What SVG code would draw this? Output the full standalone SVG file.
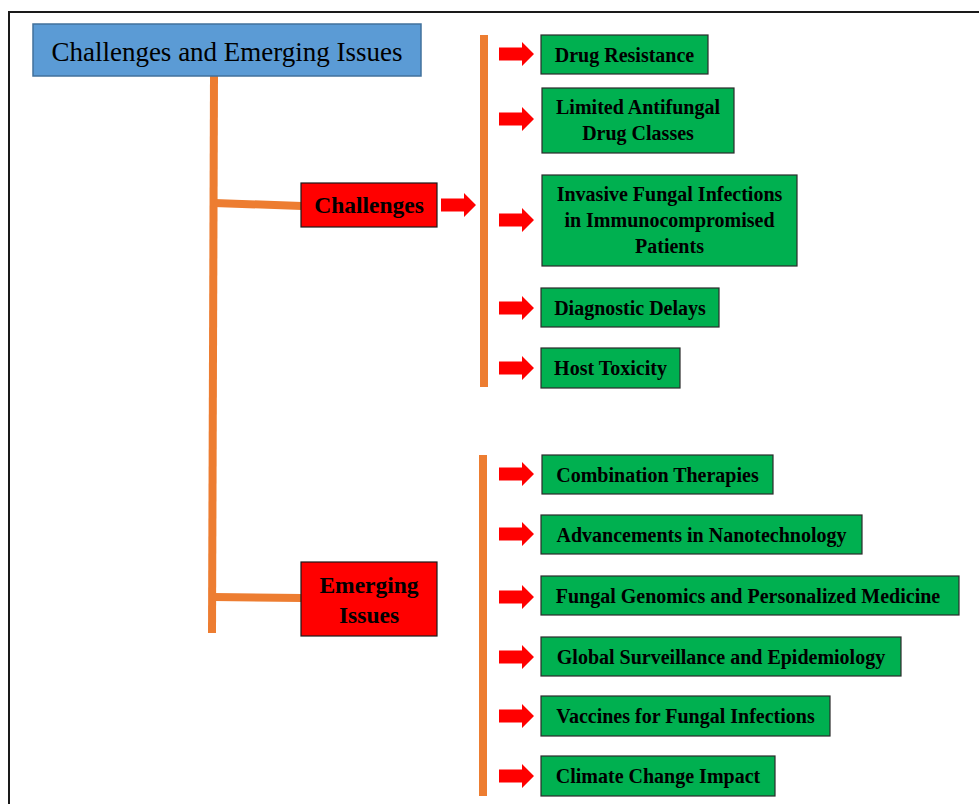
<svg xmlns="http://www.w3.org/2000/svg" width="979" height="804" viewBox="0 0 979 804">
<style>
.frame{fill:none;stroke:#1a1a1a;stroke-width:2}
.title{fill:#5B9BD5;stroke:#41719C;stroke-width:1.5}
.cat{fill:#FF0000;stroke:#1a1a1a;stroke-width:1.2}
.item{fill:#00B050;stroke:#2b2b2b;stroke-width:1.2}
.line{stroke:#ED7D31;stroke-width:8;fill:none}
.arrow{fill:#FF0000}
.t{font-family:"Liberation Serif","Times New Roman",serif;fill:#000;text-anchor:middle}
.tt{font-size:27px}
.tc{font-size:23.5px;font-weight:bold}
.ti{font-size:20px;font-weight:bold}
</style>
<defs>
<path id="arr" d="M0,-6.5 L23,-6.5 L23,-12 L35,0 L23,12 L23,6.5 L0,6.5 Z"/>
</defs>
<rect width="979" height="804" fill="#fff"/>
<rect class="frame" x="9" y="12" width="1000" height="820"/>

<g id="connectors">
<line class="line" x1="214" y1="76" x2="212" y2="633"/>
<line class="line" x1="214" y1="203" x2="302" y2="206"/>
<line class="line" x1="213" y1="597" x2="302" y2="598"/>
<line class="line" x1="484" y1="35" x2="484" y2="387"/>
<line class="line" x1="483" y1="455" x2="483" y2="796"/>
<use href="#arr" class="arrow" transform="translate(441,205)"/>
<use href="#arr" class="arrow" transform="translate(499,54)"/>
<use href="#arr" class="arrow" transform="translate(499,119)"/>
<use href="#arr" class="arrow" transform="translate(499,220)"/>
<use href="#arr" class="arrow" transform="translate(499,308)"/>
<use href="#arr" class="arrow" transform="translate(499,368)"/>
<use href="#arr" class="arrow" transform="translate(499,474)"/>
<use href="#arr" class="arrow" transform="translate(499,534)"/>
<use href="#arr" class="arrow" transform="translate(499,597)"/>
<use href="#arr" class="arrow" transform="translate(499,657)"/>
<use href="#arr" class="arrow" transform="translate(499,716)"/>
<use href="#arr" class="arrow" transform="translate(499,776)"/>
</g>

<g id="title">
<rect class="title" x="33" y="24" width="388" height="52"/>
<text class="t tt" x="227" y="61">Challenges and Emerging Issues</text>
</g>

<g id="challenges">
<rect class="cat" x="301" y="183" width="136" height="44"/>
<text class="t tc" x="369" y="213">Challenges</text>
</g>

<g id="emerging">
<rect class="cat" x="301" y="562" width="136" height="74"/>
<text class="t tc" x="369" y="593">Emerging</text>
<text class="t tc" x="369" y="623">Issues</text>
</g>

<g id="drug-resistance">
<rect class="item" x="541" y="35" width="167" height="39"/>
<text class="t ti" x="624.5" y="61.5">Drug Resistance</text>
</g>

<g id="limited-classes">
<rect class="item" x="542" y="88" width="192" height="65"/>
<text class="t ti" x="638" y="113.5">Limited Antifungal</text>
<text class="t ti" x="638" y="140">Drug Classes</text>
</g>

<g id="invasive">
<rect class="item" x="542" y="175" width="255" height="91"/>
<text class="t ti" x="669.5" y="201">Invasive Fungal Infections</text>
<text class="t ti" x="669.5" y="227">in Immunocompromised</text>
<text class="t ti" x="669.5" y="253">Patients</text>
</g>

<g id="diagnostic">
<rect class="item" x="541" y="288" width="178" height="39"/>
<text class="t ti" x="630" y="314.5">Diagnostic Delays</text>
</g>

<g id="host-toxicity">
<rect class="item" x="541" y="348" width="139" height="40"/>
<text class="t ti" x="610.5" y="375">Host Toxicity</text>
</g>

<g id="combination">
<rect class="item" x="542" y="455" width="231" height="39"/>
<text class="t ti" x="657.5" y="481.5">Combination Therapies</text>
</g>

<g id="nanotech">
<rect class="item" x="541" y="515" width="321" height="39"/>
<text class="t ti" x="701.5" y="541.5">Advancements in Nanotechnology</text>
</g>

<g id="genomics">
<rect class="item" x="541" y="576" width="418" height="39"/>
<text class="t ti" x="748" y="602.5">Fungal Genomics and Personalized Medicine</text>
</g>

<g id="surveillance">
<rect class="item" x="541" y="637" width="360" height="39"/>
<text class="t ti" x="721" y="663.5">Global Surveillance and Epidemiology</text>
</g>

<g id="vaccines">
<rect class="item" x="541" y="696" width="289" height="40"/>
<text class="t ti" x="685.5" y="723">Vaccines for Fungal Infections</text>
</g>

<g id="climate">
<rect class="item" x="541" y="756" width="234" height="40"/>
<text class="t ti" x="658" y="783">Climate Change Impact</text>
</g>
</svg>
